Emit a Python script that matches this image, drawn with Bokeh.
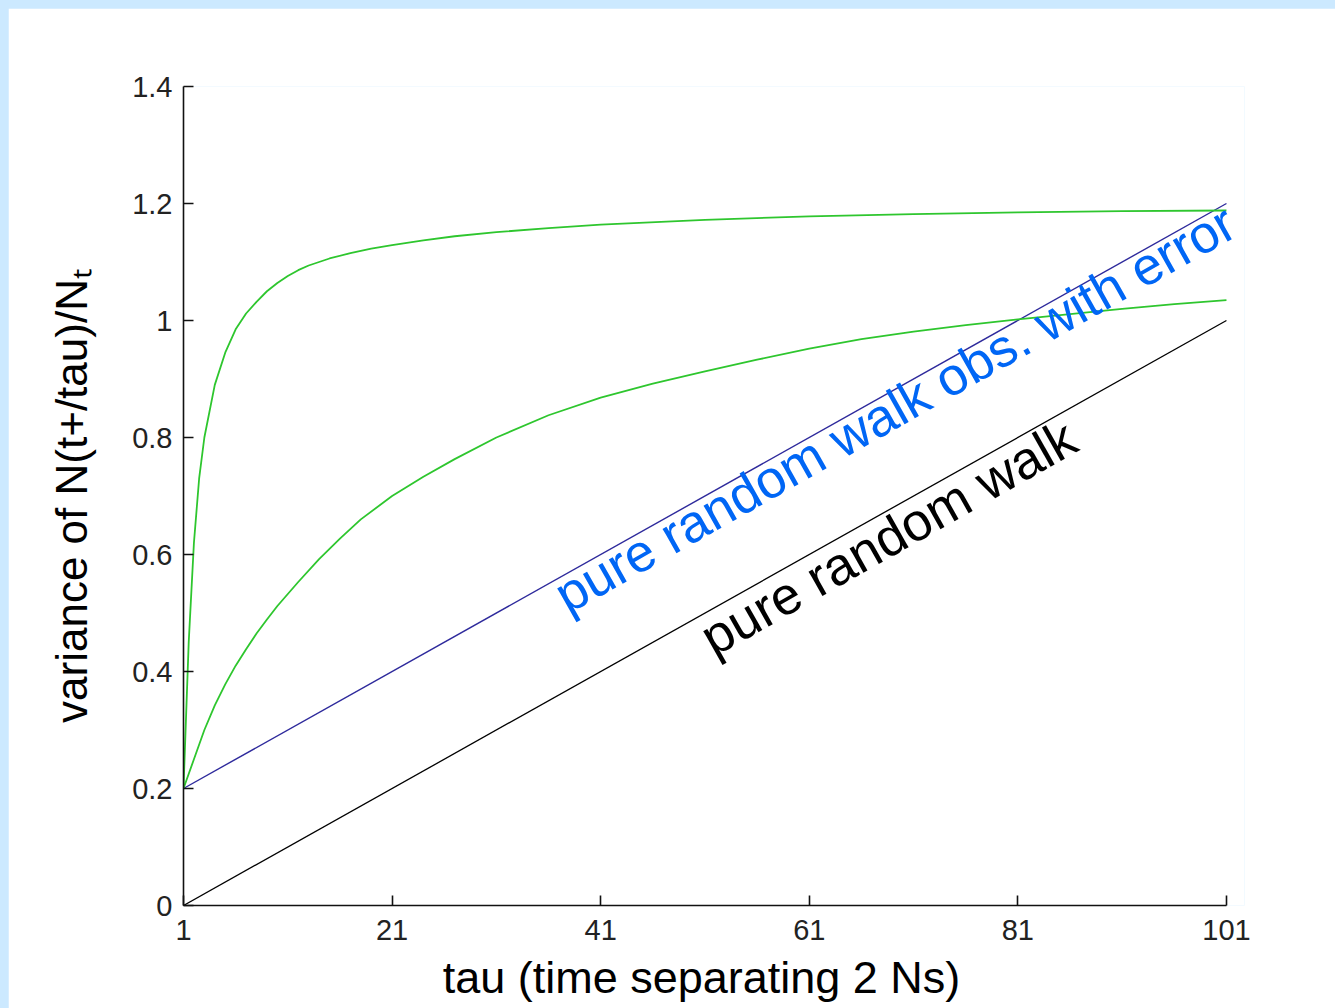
from bokeh.plotting import figure
from bokeh.layouts import column
from bokeh.models import FixedTicker, Range1d, Label
from bokeh.embed import file_html
from bokeh.resources import INLINE

# ---- data ----
x_ticks = [1, 21, 41, 61, 81, 101]
y_ticks = [0, 0.2, 0.4, 0.6, 0.8, 1, 1.2, 1.4]
y_tick_labels = ["0", "0.2", "0.4", "0.6", "0.8", "1", "1.2", "1.4"]

rw_tau = [1, 101]
rw_var = [0.0, 1.0]            # pure random walk
rwe_tau = [1, 101]
rwe_var = [0.2, 1.2]           # pure random walk observed with error

fast_tau = [1, 1.5, 2, 2.5, 3, 4, 5, 6, 7, 8, 9, 10, 11, 12, 13, 14, 15, 17, 19, 21,
            24, 27, 31, 36, 41, 51, 61, 71, 81, 91, 101]
fast_var = [0.200, 0.450, 0.620, 0.730, 0.800, 0.890, 0.945, 0.985, 1.012, 1.032,
            1.050, 1.064, 1.076, 1.086, 1.094, 1.100, 1.106, 1.115, 1.123, 1.129,
            1.137, 1.144, 1.151, 1.158, 1.164, 1.172, 1.178, 1.182, 1.185, 1.187,
            1.188]

slow_tau = [1, 2, 3, 4, 5, 6, 7, 8, 9, 10, 12, 14, 16, 18, 21, 24, 27, 31, 36, 41,
            46, 51, 56, 61, 66, 71, 76, 81, 86, 91, 96, 101]
slow_var = [0.200, 0.250, 0.300, 0.342, 0.378, 0.410, 0.438, 0.465, 0.489, 0.512,
            0.553, 0.592, 0.627, 0.660, 0.700, 0.733, 0.763, 0.800, 0.838, 0.868,
            0.892, 0.913, 0.933, 0.952, 0.968, 0.981, 0.992, 1.002, 1.011, 1.020,
            1.028, 1.035]

label_texts = ["pure random walk obs. with error", "pure random walk"]
label_x = [37.0, 51.0]
label_y = [0.525, 0.452]
label_colors = ["#0066f5", "#000000"]

FONT = "Liberation Sans"

# The plotting area runs a little past tau=101 (without drawing the axis there)
# so that the end of the blue label is not clipped, as in the reference.
p = figure(width=1327, height=1000, output_backend="svg", toolbar_location=None,
           x_range=Range1d(1, 102.73), y_range=Range1d(0, 1.4),
           min_border_left=175, min_border_right=91,
           min_border_top=78, min_border_bottom=103,
           margin=(8, 0, 0, 8))
p.background_fill_color = "white"
p.border_fill_color = "white"
p.outline_line_color = None
p.xgrid.grid_line_color = None
p.ygrid.grid_line_color = None

p.xaxis.ticker = FixedTicker(ticks=x_ticks)
p.xaxis.bounds = (1, 101)
p.yaxis.ticker = FixedTicker(ticks=y_ticks)
p.yaxis.major_label_overrides = {t: s for t, s in zip(y_ticks, y_tick_labels)}
for ax in (p.xaxis, p.yaxis):
    ax.axis_line_color = "#111111"
    ax.axis_line_width = 1.6
    ax.major_tick_line_color = "#111111"
    ax.major_tick_line_width = 1.6
    ax.major_tick_in = 10
    ax.major_tick_out = 0
    ax.minor_tick_line_color = None
    ax.major_label_text_font = FONT
    ax.major_label_text_font_size = "29px"
    ax.major_label_text_color = "#222222"
    ax.axis_label_text_font = FONT
    ax.axis_label_text_font_style = "normal"
    ax.axis_label_text_color = "#000000"
p.xaxis.axis_label_text_font_size = "45px"
p.yaxis.axis_label_text_font_size = "44px"

# two no-break spaces keep the x title centred under tau 1..101
p.xaxis.axis_label = "tau (time separating 2 Ns)\u00a0\u00a0"
p.yaxis.axis_label = "variance of N(t+/tau)/N\u209c"
p.xaxis.major_label_standoff = 14
p.yaxis.major_label_standoff = 11
p.xaxis.axis_label_standoff = 9
p.yaxis.axis_label_standoff = 33

p.line(rw_tau, rw_var, line_color="#000000", line_width=1.3)
p.line(rwe_tau, rwe_var, line_color="#2e2a9c", line_width=1.4)
p.line(fast_tau, fast_var, line_color="#2ec62e", line_width=1.8)
p.line(slow_tau, slow_var, line_color="#2ec62e", line_width=1.8)

for t, lx, ly, c in zip(label_texts, label_x, label_y, label_colors):
    p.add_layout(Label(x=lx, y=ly, x_units="data", y_units="data", text=t,
                       angle=29.5, angle_units="deg", text_color=c,
                       text_font=FONT, text_font_size="53px",
                       text_align="left", text_baseline="alphabetic"))

layout = column(p, styles={"background-color": "#cce9ff"})

open("out.html", "w").write(file_html(layout, INLINE))
